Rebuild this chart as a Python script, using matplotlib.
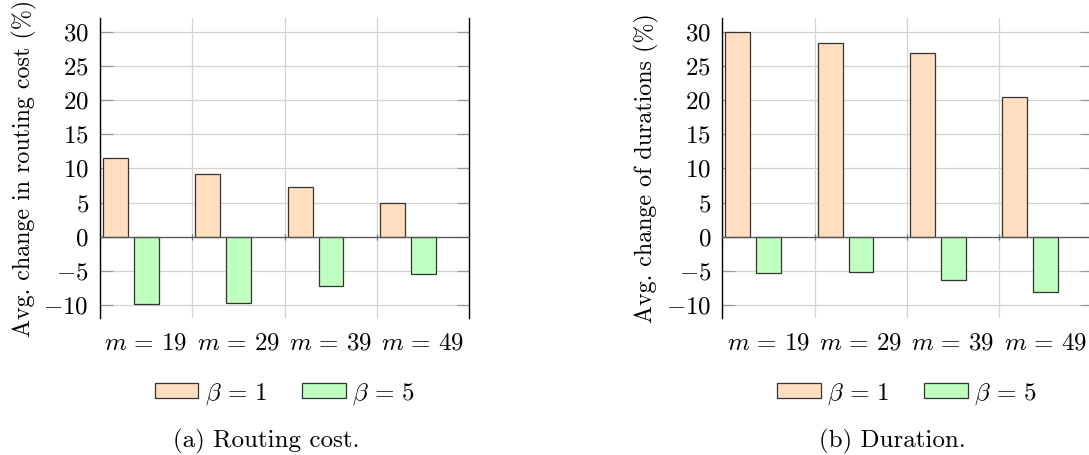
import matplotlib
matplotlib.use("Agg")
import matplotlib.pyplot as plt
import numpy as np

plt.rcParams['font.family'] = 'serif'
plt.rcParams['font.serif'] = ['cmr10']
plt.rcParams['mathtext.fontset'] = 'cm'
plt.rcParams['axes.formatter.use_mathtext'] = True
plt.rcParams['font.size'] = 18

categories = [r'$m\,=\,19$', r'$m\,=\,29$', r'$m\,=\,39$', r'$m\,=\,49$']
series_names = [r'$\beta\,=\,1$', r'$\beta\,=\,5$']

routing_beta1 = [11.5, 9.1, 7.2, 5.0]
routing_beta5 = [-9.85, -9.75, -7.25, -5.45]

duration_beta1 = [30.0, 28.4, 26.9, 20.5]
duration_beta5 = [-5.3, -5.15, -6.3, -8.1]

yticks = [-10, -5, 0, 5, 10, 15, 20, 25, 30]

panels = [
    (routing_beta1, routing_beta5, 'Avg. change in routing cost (%)', '(a) Routing cost.'),
    (duration_beta1, duration_beta5, 'Avg. change of durations (%)', '(b) Duration.'),
]

ORANGE = '#ffdfbf'
GREEN = '#bfffbf'
GRID = '#d3d3d3'
TICK = '#9a9a9a'

W, H = 1089, 455
fig = plt.figure(figsize=(W / 100, H / 100), dpi=100)

ax_left_px = [100, 722.3]
caption_x_px = [266, 892]
ax_w_px = 369.2
ax_top_px, ax_bot_px = 18, 318

for k, (b1, b5, ylab, caption) in enumerate(panels):
    ax = fig.add_axes([ax_left_px[k] / W, 1 - ax_bot_px / H,
                       ax_w_px / W, (ax_bot_px - ax_top_px) / H])
    x = np.arange(len(categories))
    ax.bar(x + 0.168, b1, width=0.27, color=ORANGE, edgecolor='#333333',
           linewidth=0.9, label=series_names[0], zorder=3)
    ax.bar(x + 0.503, b5, width=0.27, color=GREEN, edgecolor='#333333',
           linewidth=0.9, label=series_names[1], zorder=3)

    ax.set_xlim(0, len(categories))
    ax.set_ylim(-11.9, 32.0)

    # grid
    ax.set_yticks(yticks)
    ax.set_xticks(x)
    ax.grid(True, color=GRID, linewidth=0.9, zorder=0)
    ax.set_axisbelow(True)

    # zero line as the bottom spine
    ax.spines['bottom'].set_position(('data', 0))
    ax.spines['bottom'].set_color('#555555')
    ax.spines['bottom'].set_linewidth(0.9)
    ax.spines['bottom'].set_zorder(4)
    ax.spines['top'].set_visible(False)
    ax.spines['left'].set_linewidth(1.0)
    ax.spines['right'].set_linewidth(1.0)
    ax.tick_params(axis='x', direction='inout', length=5, color='#777777',
                   labelbottom=False, width=0.9)
    ax.tick_params(axis='y', direction='in', length=9, color=TICK, width=0.9,
                   right=True, pad=8)

    # category labels below the axes
    sec = ax.secondary_xaxis('bottom')
    sec.set_xticks(x + 0.5, categories)
    sec.tick_params(length=0, pad=10)
    sec.spines['bottom'].set_visible(False)

    ax.set_ylabel(ylab, labelpad=5, fontsize=17.3)

    ax.legend(loc='center', bbox_to_anchor=(0.5, -0.253), ncol=2, frameon=False,
              handlelength=1.75, handleheight=0.5, handletextpad=0.25,
              columnspacing=1.4, borderaxespad=0)

    fig.text(caption_x_px[k] / W, 1 - 441 / H, caption, ha='center', va='center')

fig.savefig('out.png', dpi=100)
